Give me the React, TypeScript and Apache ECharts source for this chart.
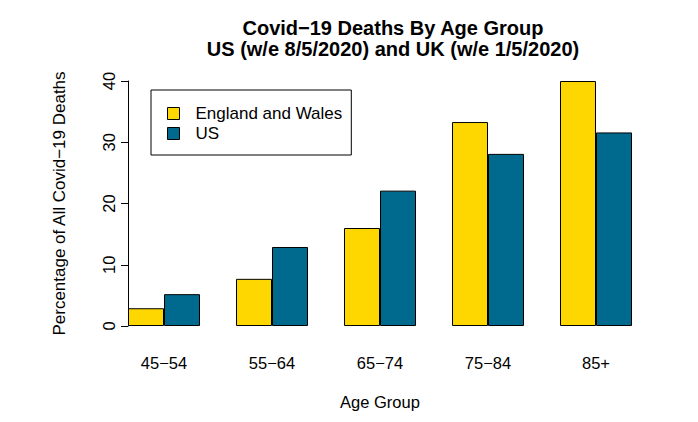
import { useEffect, useRef } from 'react';
import * as echarts from 'echarts';

// Age bands and share of all Covid-19 deaths (%) for each country.
const ageGroups = ['45−54', '55−64', '65−74', '75−84', '85+'];
const englandWales = [2.9, 7.7, 16.0, 33.3, 40.0];
const us = [5.2, 12.9, 22.1, 28.1, 31.6];
const yTicks = { min: 0, max: 40, interval: 10 };

const FONT = '"Liberation Sans", Arial, sans-serif';

export default function App() {
  const ref = useRef<HTMLDivElement>(null);

  useEffect(() => {
    if (!ref.current) return;
    const chart = echarts.init(ref.current, undefined, { renderer: 'svg' });
    chart.setOption({
      animation: false,
      backgroundColor: '#ffffff',
      textStyle: { fontFamily: FONT, color: '#000' },
      title: {
        text: 'Covid−19 Deaths By Age Group\nUS (w/e 8/5/2020) and UK (w/e 1/5/2020)',
        left: 388,
        top: 12,
        textAlign: 'center',
        textStyle: { fontFamily: FONT, fontSize: 20, fontWeight: 'bold', lineHeight: 21, color: '#000' },
      },
      legend: {
        orient: 'vertical',
        left: 151,
        top: 90,
        padding: [15, 9, 13, 16],
        borderColor: '#000',
        borderWidth: 1,
        itemWidth: 12,
        itemHeight: 12,
        itemGap: 3,
        icon: 'rect',
        textStyle: { fontFamily: FONT, fontSize: 17, color: '#000', padding: [0, 0, 0, 11] },
        itemStyle: { borderColor: '#000', borderWidth: 1 },
        data: ['England and Wales', 'US'],
      },
      grid: { left: 110, right: 48, top: 81, bottom: 96 },
      xAxis: {
        type: 'category',
        data: ageGroups,
        name: 'Age Group',
        nameLocation: 'middle',
        nameGap: 67,
        nameTextStyle: { fontFamily: FONT, fontSize: 16.5, color: '#000' },
        axisLine: { show: false },
        axisTick: { show: false },
        axisLabel: { margin: 28, fontFamily: FONT, fontSize: 16.5, color: '#000' },
      },
      yAxis: {
        type: 'value',
        min: yTicks.min,
        max: yTicks.max,
        interval: yTicks.interval,
        offset: -18,
        name: 'Percentage of All Covid−19 Deaths',
        nameLocation: 'middle',
        nameGap: 60,
        nameTextStyle: { fontFamily: FONT, fontSize: 17, color: '#000' },
        axisLine: { show: true, lineStyle: { color: '#000', width: 1 } },
        axisTick: { show: true, length: 7, lineStyle: { color: '#000' } },
        axisLabel: { rotate: 90, margin: 11, fontFamily: FONT, fontSize: 16.5, color: '#000' },
        splitLine: { show: false },
      },
      series: [
        {
          name: 'England and Wales',
          type: 'bar',
          data: englandWales,
          barWidth: 36,
          barGap: '0%',
          itemStyle: { color: '#ffd700', borderColor: '#000', borderWidth: 1 },
        },
        {
          name: 'US',
          type: 'bar',
          data: us,
          barWidth: 36,
          barGap: '0%',
          itemStyle: { color: '#006a8e', borderColor: '#000', borderWidth: 1 },
        },
      ],
    });
    return () => chart.dispose();
  }, []);

  return <div ref={ref} style={{ width: 698, height: 422, margin: -8 }} />;
}
